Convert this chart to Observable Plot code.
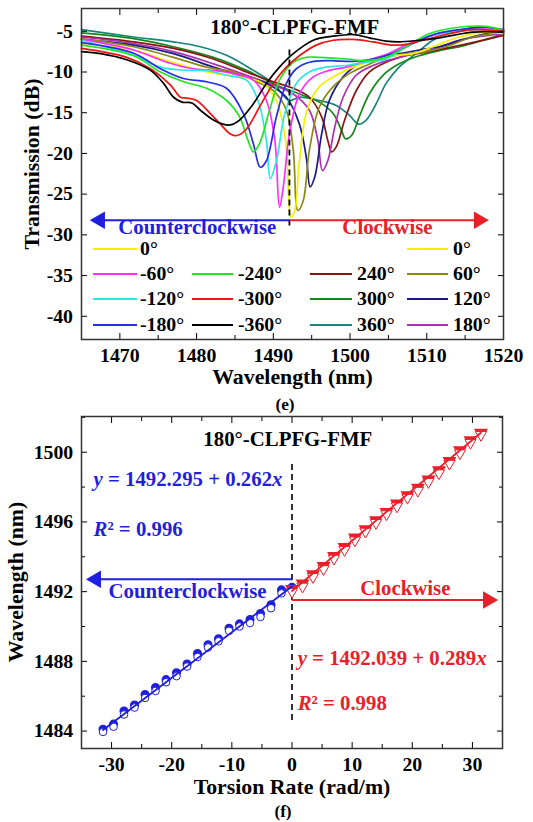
<!DOCTYPE html>
<html><head><meta charset="utf-8">
<script src="https://cdn.jsdelivr.net/npm/d3@7"></script>
<script src="https://cdn.jsdelivr.net/npm/@observablehq/plot@0.6"></script>
<style>
body{margin:0;background:#fff;}
#wrap{position:relative;width:533px;height:822px;overflow:hidden;font-weight:bold;color:#000;}
#wrap svg{position:absolute;left:0;}
.abs{position:absolute;white-space:nowrap;line-height:0.78;}
</style></head><body><div id="wrap"></div>
<script>
// ---------- Panel (e): transmission spectra [wavelength nm, dB] ----------
const sM360 = [[1465,-7.5],[1467.5,-7.75],[1470.9,-8.5],[1474,-9.8],[1475.7,-11.4],[1477,-13.1],[1478.1,-13.7],[1479.4,-13.8],[1480.5,-14.7],[1482.2,-15.9],[1483.4,-16.4],[1484.4,-16.5],[1485.6,-15.9],[1487.4,-13.9],[1489.1,-11.4],[1490.8,-9.4],[1492.6,-7.75],[1495.2,-6.1],[1497.8,-5.6],[1500.5,-5.4],[1502.5,-5.8],[1504.7,-6.2],[1506.4,-6.3],[1509,-6.1],[1511,-5.9],[1513.4,-5.5],[1516,-5.1],[1520,-5.1]];
const sM300 = [[1465,-7.1],[1470.9,-8.2],[1474,-9.6],[1476.6,-11.6],[1477.9,-13.1],[1478.7,-13.2],[1480,-13.5],[1481.8,-15.1],[1483.1,-16.4],[1484.4,-17.6],[1485.3,-17.8],[1486.5,-17],[1488.2,-14.3],[1490,-11.4],[1491.7,-9.4],[1493.4,-8],[1495.6,-6.7],[1497.8,-6.1],[1500.4,-6.0],[1503,-6.3],[1505.6,-6.7],[1507.3,-6.6],[1509.9,-6.0],[1512.9,-5.3],[1516,-4.8],[1520,-5.0]];
const sM240 = [[1465,-6.7],[1471.8,-8.0],[1475.3,-10.0],[1478.3,-11.2],[1481.3,-12.0],[1483.9,-13.5],[1485.6,-15.5],[1486.7,-18.4],[1487.4,-19.8],[1488.2,-18.8],[1489.5,-14.7],[1490.8,-11.0],[1492.6,-8.8],[1494.3,-8.2],[1496,-8.2],[1499.5,-8.4],[1502.1,-8.6],[1504.7,-8.2],[1507.3,-6.9],[1510.3,-5.3],[1514.2,-4.5],[1517.7,-4.4],[1520,-4.9]];
const sM180 = [[1465,-6.4],[1471.8,-7.7],[1475.3,-9.6],[1478.3,-10.8],[1481.3,-11.2],[1483.9,-12.0],[1486.1,-15.1],[1487.4,-18.8],[1488.3,-21.7],[1489.1,-20.9],[1490.4,-15.5],[1491.7,-11.4],[1493,-9.6],[1494.7,-8.8],[1497.3,-8.6],[1500.4,-8.7],[1503,-8.4],[1505.6,-7.7],[1508.2,-6.5],[1511.2,-5.3],[1515.1,-4.7],[1517.7,-4.5],[1520,-4.8]];
const sM120 = [[1465,-6.1],[1471.8,-7.95],[1475.3,-9.4],[1478.7,-9.8],[1481.3,-9.8],[1483.9,-10.4],[1486.5,-11.0],[1488,-13.5],[1489.1,-18.4],[1489.6,-23.1],[1490.4,-20.9],[1491.5,-15.1],[1493,-11.4],[1494.7,-10.0],[1496.9,-9.4],[1499.5,-9.2],[1502.1,-8.8],[1504.7,-8.4],[1507.3,-6.9],[1509.9,-5.7],[1513.4,-5.0],[1516.8,-4.8],[1520,-5.0]];
const sM60 = [[1465,-6.0],[1471.8,-7.3],[1476.1,-8.8],[1479.6,-9.6],[1482.2,-9.8],[1484.8,-10.2],[1487.4,-11.0],[1489.1,-13.5],[1490.2,-18.4],[1490.8,-26.6],[1491.3,-24.1],[1492.1,-17.6],[1493.4,-12.7],[1495.2,-10.6],[1497.3,-9.8],[1499.5,-9.4],[1502.1,-8.6],[1505.1,-7.7],[1507.7,-6.5],[1510.8,-5.5],[1514.2,-4.9],[1517.3,-4.7],[1520,-5.1]];
const s0 = [[1465,-6.5],[1471.8,-7.3],[1476.1,-8.6],[1480.5,-9.8],[1483.9,-10.4],[1486.5,-10.7],[1488.7,-11.4],[1490.4,-13.5],[1491.6,-18.4],[1492.3,-27.8],[1492.8,-27.0],[1493.4,-20.9],[1494.4,-14.7],[1496,-11.8],[1498.2,-10.4],[1500.4,-9.4],[1503,-8.6],[1505.6,-8.0],[1508.2,-7.75],[1510.8,-6.9],[1514.2,-5.7],[1517.7,-5.1],[1520,-5.3]];
const s60 = [[1465,-5.9],[1471.8,-6.9],[1477,-8.2],[1481.3,-9.4],[1484.8,-10.0],[1487.4,-11.0],[1490,-12.3],[1491.7,-14.7],[1492.6,-19.6],[1493.2,-27.0],[1493.9,-25.8],[1494.7,-19.6],[1496,-14.3],[1497.8,-11.8],[1499.9,-10.2],[1502.1,-9.2],[1504.7,-8.2],[1507.3,-7.75],[1509.9,-7.5],[1512.5,-6.9],[1516,-5.7],[1520,-5.1]];
const s120 = [[1465,-6.0],[1471.8,-6.7],[1477,-7.75],[1482.2,-9.4],[1485.6,-10.4],[1489.1,-11.4],[1491.7,-13.1],[1493.4,-16.4],[1494.3,-20.5],[1494.8,-24.1],[1495.4,-22.9],[1496.3,-17.6],[1497.3,-13.5],[1499.1,-10.6],[1501.2,-9.0],[1503.8,-8.2],[1506.4,-7.75],[1509,-7.3],[1511.6,-6.9],[1515.1,-5.9],[1520,-4.8]];
const s180 = [[1465,-5.7],[1471.8,-6.5],[1477,-7.5],[1482.2,-9.0],[1486.5,-10.4],[1490,-11.6],[1492.6,-12.7],[1494.7,-14.7],[1495.8,-18.4],[1496.4,-22.1],[1497.1,-20.9],[1498,-16.8],[1499.1,-13.1],[1500.8,-10.4],[1503,-9.2],[1505.6,-8.4],[1508.2,-7.75],[1510.8,-7.25],[1514.2,-6.1],[1520,-5.3]];
const s240 = [[1465,-5.6],[1471.8,-6.3],[1477,-7.1],[1482.2,-8.4],[1486.5,-10.0],[1490,-11.2],[1492.6,-12.0],[1494.7,-13.1],[1496.3,-15.5],[1497.1,-18.4],[1497.6,-19.8],[1498.2,-19.2],[1499.3,-15.9],[1500.8,-12.3],[1502.5,-10.0],[1504.7,-8.8],[1507.3,-8.0],[1510.3,-7.5],[1513.4,-6.9],[1516.4,-6.3],[1520,-5.5]];
const s300 = [[1465,-5.2],[1471.8,-5.9],[1477,-6.9],[1482.2,-8.2],[1486.5,-9.8],[1490.4,-11.6],[1493.4,-12.7],[1496,-13.7],[1497.8,-15.1],[1498.9,-17.2],[1499.4,-18.2],[1500.2,-17.8],[1501.2,-15.5],[1502.5,-12.7],[1504.3,-10.4],[1506.4,-9.0],[1509,-8.0],[1512,-7.3],[1515.1,-6.7],[1520,-5.3]];
const s360 = [[1465,-4.8],[1471.8,-5.7],[1477,-6.3],[1480.5,-6.9],[1483.9,-7.95],[1487.4,-9.8],[1490,-11.4],[1492.1,-13.5],[1493.4,-13.1],[1496,-13.5],[1498.2,-14.1],[1499.9,-15.3],[1501.1,-16.4],[1502.1,-15.9],[1503.4,-13.9],[1504.7,-11.4],[1506.4,-9.4],[1508.6,-7.75],[1510.8,-6.1],[1514.2,-4.9],[1517.3,-4.5],[1520,-4.9]];

const seriesLabels = ["360°","300°","240°","180°","120°","60°","0°","-60°","-120°","-180°","-240°","-300°","-360°"];
const seriesColors = ["#15857d","#14881a","#8a1414","#b02eb0","#1a1a86","#8a8a12","#f2f200","#ff2eff","#2ee6e6","#2430e6","#22e622","#ee1414","#000000"];
const seriesData = [s360,s300,s240,s180,s120,s60,s0,sM60,sM120,sM180,sM240,sM300,sM360];

// legend layout (column, row) for each entry
const legendLabels = ["0°","-60°","-120°","-180°","-240°","-300°","-360°","240°","300°","360°","0°","60°","120°","180°"];
const legendColors = ["#f2f200","#ff2eff","#2ee6e6","#2430e6","#22e622","#ee1414","#000000","#8a1414","#14881a","#15857d","#f2f200","#8a8a12","#1a1a86","#b02eb0"];
const legendCol = [0,0,0,0,1,1,1,2,2,2,3,3,3,3];
const legendRow = [0,1,2,3,1,2,3,1,2,3,0,1,2,3];

const xTicksE = [1470,1480,1490,1500,1510,1520];
const xMinorE = [1465,1475,1485,1495,1505,1515];
const yTicksE = [-40,-35,-30,-25,-20,-15,-10,-5];

// ---------- Panel (f): resonance wavelength vs torsion rate ----------
const ccwRate = [-31.42,-29.67,-27.93,-26.18,-24.43,-22.69,-20.94,-19.2,-17.45,-15.71,-13.96,-12.22,-10.47,-8.73,-6.98,-5.24,-3.49,-1.75,0];
const ccwFilled = [1484.1,1484.4,1485.15,1485.5,1486.1,1486.5,1486.95,1487.35,1487.85,1488.45,1488.95,1489.3,1489.9,1490.15,1490.4,1490.75,1491.25,1492.1,1492.25];
const ccwHollow = [1483.95,1484.25,1484.95,1485.35,1485.9,1486.3,1486.8,1487.15,1487.7,1488.25,1488.8,1489.15,1489.75,1490.0,1490.2,1490.55,1491.05,1491.9,1492.1];
const cwRate = [0,1.75,3.49,5.24,6.98,8.73,10.47,12.22,13.96,15.71,17.45,19.2,20.94,22.69,24.43,26.18,27.93,29.67,31.42];
const cwFilled = [1492.15,1492.46,1493.0,1493.47,1494.05,1494.56,1495.1,1495.58,1496.09,1496.57,1497.05,1497.53,1497.96,1498.44,1498.96,1499.49,1500.11,1500.68,1501.12];
const cwHollow = [1492.0,1492.3,1492.85,1493.3,1493.9,1494.4,1494.95,1495.45,1495.95,1496.45,1496.9,1497.4,1497.8,1498.3,1498.8,1499.35,1499.95,1500.55,1501.0];
const ccwFit = [[-31.42,1484.06],[0,1492.3]];
const cwFit = [[0,1492.04],[31.42,1501.12]];
const xTicksF = [-30,-20,-10,0,10,20,30];
const xMinorF = [-35,-25,-15,-5,5,15,25,35];
const yTicksF = [1484,1488,1492,1496,1500];
const yMinorF = [1486,1490,1494,1498,1502];

const BLUE = "#1f1fdc", RED = "#e8202a";

// ---------- font: pick an installed Times-like face, scale to reference widths ----------
function pickFont() {
  const cands = ["Liberation Serif","Tinos","Times New Roman","Times","Nimbus Roman","DejaVu Serif","Noto Serif","FreeSerif","Liberation Sans","Noto Sans"];
  const c = document.createElement("canvas").getContext("2d");
  const s = "Counterclockwise 1492 Wavelength";
  c.font = "bold 40px monospace"; const wm = c.measureText(s).width;
  c.font = "bold 40px sans-serif"; const ws = c.measureText(s).width;
  for (const f of cands) {
    c.font = `bold 40px "${f}", monospace`; const a = c.measureText(s).width;
    c.font = `bold 40px "${f}", sans-serif`; const b = c.measureText(s).width;
    if (a !== wm || b !== ws) return f;
  }
  return "serif";
}
const FAMILY = pickFont();
const FONT = `"${FAMILY}", serif`;
const K = (() => {
  const c = document.createElement("canvas").getContext("2d");
  c.font = `bold 20.5px ${FONT}`;
  const w = c.measureText("Counterclockwise").width;
  return Math.max(0.8, Math.min(1.2, 158 / w));
})();
const FS_TEXT = 20.5 * K, FS_TICK = 19.5 * K, FS_TITLE = 21.5 * K, FS_CAP = 17 * K;
const wrap = document.getElementById("wrap");
wrap.style.fontFamily = FONT;
const fmt = d => String(d);

function frameAxes(xT, xM, yT, yM, xPad, yPad) {
  const none = () => "";
  const m = [
    Plot.axisX(xT, {anchor: "bottom", tickSize: -6, tickPadding: xPad, tickFormat: fmt, label: null, fontSize: FS_TICK}),
    Plot.axisX(xT, {anchor: "top", tickSize: -6, tickFormat: none, label: null}),
    Plot.axisX(xM, {anchor: "bottom", tickSize: -4, tickFormat: none, label: null}),
    Plot.axisX(xM, {anchor: "top", tickSize: -4, tickFormat: none, label: null}),
    Plot.axisY(yT, {anchor: "left", tickSize: -6, tickPadding: yPad, tickFormat: fmt, label: null, fontSize: FS_TICK}),
    Plot.axisY(yT, {anchor: "right", tickSize: -6, tickFormat: none, label: null})
  ];
  if (yM) {
    m.push(Plot.axisY(yM, {anchor: "left", tickSize: -4, tickFormat: none, label: null}));
    m.push(Plot.axisY(yM, {anchor: "right", tickSize: -4, tickFormat: none, label: null}));
  }
  m.push(Plot.frame({stroke: "#333", strokeWidth: 1.5}));
  return m;
}

function arrowMarks(line, tip, color, rot) {
  return [
    Plot.link([line], {x1: d => d[0], x2: d => d[1], y1: d => d[2], y2: d => d[2], stroke: color, strokeWidth: 2}),
    Plot.dot([tip], {x: d => d[0], y: d => d[1], symbol: "triangle", rotate: rot, r: 5.5, fill: color, stroke: color})
  ];
}

const txt = (arr, opts) => Plot.text(arr, {x: d => d[0], y: d => d[1], text: d => d[2], fontSize: FS_TEXT, fontWeight: "bold", lineAnchor: "bottom", ...opts});

// ---------- Top plot ----------
const curveMarks = seriesData.map((s, i) =>
  Plot.line(s, {x: d => d[0], y: d => d[1], stroke: seriesColors[i], strokeWidth: 1.7, curve: "catmull-rom"}));

const topPlot = Plot.plot({
  width: 533, height: 400,
  marginLeft: 81, marginRight: 30, marginTop: 8, marginBottom: 61,
  x: {domain: [1465, 1520]},
  y: {domain: [-42.85, -2.2]},
  style: {fontFamily: FONT, fontWeight: "bold", fontSize: FS_TICK + "px", color: "#000", background: "transparent", overflow: "visible"},
  marks: [
    ...curveMarks,
    Plot.ruleX([1492.1], {y1: -7.3, y2: -29, stroke: "#000", strokeWidth: 1.8, strokeDasharray: "6,4"}),
    ...arrowMarks([1492.1, 1467.6, -28.2], [1467.4, -28.2], BLUE, -90),
    ...arrowMarks([1492.1, 1516.6, -28.2], [1516.8, -28.2], RED, 90),
    txt([[1492.8, -5.3, "180°-CLPFG-FMF"]], {textAnchor: "middle", fill: "#000"}),
    txt([[1469.8, -29.9, "Counterclockwise"]], {textAnchor: "start", fill: BLUE}),
    txt([[1499.0, -29.9, "Clockwise"]], {textAnchor: "start", fill: RED}),
    ...frameAxes(xTicksE, xMinorE, yTicksE, null, 14.5, 14.5)
  ]
});
topPlot.style.top = "0px";
wrap.appendChild(topPlot);

// ---------- Bottom plot ----------
const botPlot = Plot.plot({
  width: 533, height: 422,
  marginLeft: 81, marginRight: 31, marginTop: 16, marginBottom: 74,
  x: {domain: [-35, 35]},
  y: {domain: [1483, 1502.05]},
  style: {fontFamily: FONT, fontWeight: "bold", fontSize: FS_TICK + "px", color: "#000", background: "transparent", overflow: "visible"},
  marks: [
    Plot.ruleX([0], {y1: 1484.6, y2: 1499.4, stroke: "#000", strokeWidth: 1.6, strokeDasharray: "6,4"}),
    Plot.dot(ccwRate, {x: d => d, y: (d, i) => ccwFilled[i], r: 3.8, fill: BLUE, stroke: BLUE}),
    Plot.dot(ccwRate, {x: d => d, y: (d, i) => ccwHollow[i], r: 3.8, fill: "white", stroke: BLUE, strokeWidth: 1}),
    Plot.dot(cwRate, {x: d => d, y: (d, i) => cwFilled[i], symbol: "triangle", rotate: 180, r: 4.2, fill: RED, stroke: RED}),
    Plot.dot(cwRate, {x: d => d, y: (d, i) => cwHollow[i], symbol: "triangle", rotate: 180, r: 4.2, fill: "white", stroke: RED, strokeWidth: 1}),
    Plot.line(ccwFit, {x: d => d[0], y: d => d[1], stroke: BLUE, strokeWidth: 1.8}),
    Plot.line(cwFit, {x: d => d[0], y: d => d[1], stroke: RED, strokeWidth: 1.8}),
    ...arrowMarks([0, -32.4, 1492.71], [-32.6, 1492.71], BLUE, -90),
    ...arrowMarks([0, 32.4, 1491.52], [32.6, 1491.52], RED, 90),
    txt([[-0.7, 1500.38, "180°-CLPFG-FMF"]], {textAnchor: "middle", fill: "#000"}),
    txt([[-33.0, 1498.09, "y = 1492.295 + 0.262x"]], {textAnchor: "start", fill: BLUE}),
    txt([[-33.0, 1495.22, "R² = 0.996"]], {textAnchor: "start", fill: BLUE}),
    txt([[-30.5, 1491.64, "Counterclockwise"]], {textAnchor: "start", fill: BLUE}),
    txt([[11.35, 1491.81, "Clockwise"]], {textAnchor: "start", fill: RED}),
    txt([[0.94, 1487.77, "y = 1492.039 + 0.289x"]], {textAnchor: "start", fill: RED}),
    txt([[0.94, 1485.19, "R² = 0.998"]], {textAnchor: "start", fill: RED}),
    ...frameAxes(xTicksF, xMinorF, yTicksF, yMinorF, 14.5, 14.3)
  ]
});
botPlot.style.top = "400px";
wrap.appendChild(botPlot);

// italic variables in equations
const NS = "http://www.w3.org/2000/svg";
function setParts(t, parts) {
  t.textContent = "";
  for (const [s, it] of parts) {
    const ts = document.createElementNS(NS, "tspan");
    if (it) ts.setAttribute("font-style", "italic");
    ts.textContent = s;
    t.appendChild(ts);
  }
}
botPlot.querySelectorAll("text").forEach(t => {
  const s = t.textContent;
  let m;
  if ((m = s.match(/^y = (.*)x$/))) setParts(t, [["y", true], [" = " + m[1], false], ["x", true]]);
  else if ((m = s.match(/^R² = (.*)$/))) setParts(t, [["R", true], ["² = " + m[1], false]]);
});

// ---------- HTML overlays: axis titles, captions, legend ----------
function label(text, cx, cy, size, rot) {
  const d = document.createElement("div");
  d.className = "abs";
  d.textContent = text;
  d.style.fontSize = size + "px";
  d.style.left = cx + "px";
  d.style.top = cy + "px";
  d.style.transform = "translate(-50%,-50%)" + (rot ? " rotate(-90deg)" : "");
  wrap.appendChild(d);
}
label("Transmission (dB)", 33, 163.5, FS_TITLE, true);
label("Wavelength (nm)", 292.5, 377.5, FS_TITLE, false);
label("(e)", 285, 405, FS_CAP, false);
label("Wavelength (nm)", 17, 581.5, FS_TITLE, true);
label("Torsion Rate (rad/m)", 292, 787.5, FS_TITLE, false);
label("(f)", 283, 811.5, FS_CAP, false);

const legLineX = [93, 192, 310, 407];
const legLineW = [44, 41, 42, 41];
const legTextX = [140, 238, 357, 453];
const legRowY = [249, 273.5, 299, 324.5];
legendLabels.forEach((lab, i) => {
  const c = legendCol[i], r = legendRow[i];
  const ln = document.createElement("div");
  ln.className = "abs";
  ln.style.left = legLineX[c] + "px";
  ln.style.top = (legRowY[r] - 1) + "px";
  ln.style.width = legLineW[c] + "px";
  ln.style.height = "2px";
  ln.style.background = legendColors[i];
  wrap.appendChild(ln);
  const tx = document.createElement("div");
  tx.className = "abs";
  tx.textContent = lab;
  tx.style.fontSize = FS_TICK + "px";
  tx.style.left = legTextX[c] + "px";
  tx.style.top = legRowY[r] + "px";
  tx.style.transform = "translateY(-50%)";
  wrap.appendChild(tx);
});
</script>
</body></html>
